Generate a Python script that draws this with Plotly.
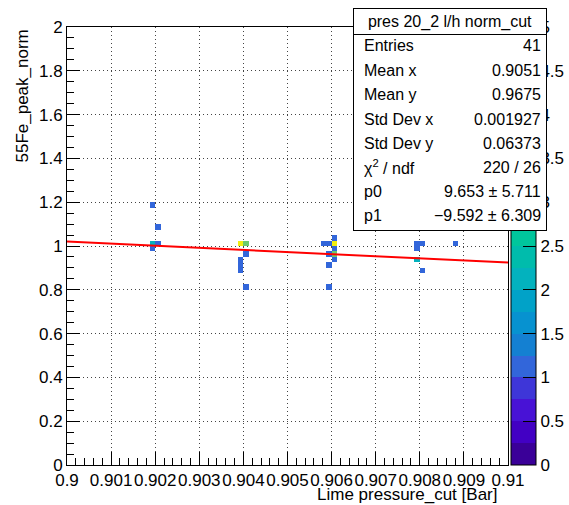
import math
import plotly.graph_objects as go

# ---- histogram binning (TH2-style: 80 x 80 bins) ----
X_MIN, X_MAX, NX = 0.9, 0.91, 80
Y_MIN, Y_MAX, NY = 0.0, 2.0, 80

# ---- filled cells: bin centre x, bin centre y, entries ----
cell_x = [0.9019375, 0.9020625, 0.9019375, 0.9020625, 0.9019375,
          0.9039375, 0.9040625, 0.9040625, 0.9039375, 0.9039375, 0.9039375, 0.9040625,
          0.9058125, 0.9059375, 0.9060625, 0.9060625, 0.9060625, 0.9060625, 0.9060625,
          0.9059375, 0.9059375, 0.9059375,
          0.9079375, 0.9080625, 0.9079375, 0.9079375, 0.9080625, 0.9088125]
cell_y = [1.1875, 1.0875, 1.0125, 1.0125, 0.9875,
          1.0125, 1.0125, 0.9625, 0.9375, 0.9125, 0.8875, 0.8125,
          1.0125, 1.0125, 1.0375, 1.0125, 0.9875, 0.9625, 0.9375,
          0.9625, 0.9125, 0.8125,
          1.0125, 1.0125, 0.9875, 0.9375, 0.8875, 1.0125]
cell_n = [1, 1, 2, 1, 1,
          5, 3, 1, 1, 1, 1, 1,
          1, 1, 1, 5, 1, 3, 1,
          1, 1, 1,
          1, 1, 1, 2, 1, 1]

# ---- linear fit result p0 + p1*x ----
p0, p1 = 9.653, -9.592

# ---- statistics box text ----
stats_title = "pres 20_2 l/h norm_cut"
stats_labels = ["Entries", "Mean x", "Mean y", "Std Dev x", "Std Dev y",
                "\u03c7<sup>2</sup> / ndf", "p0", "p1"]
stats_values = ["41", "0.9051", "0.9675", "0.001927", "0.06373",
                "220 / 26", "9.653 \u00b1 5.711", "\u22129.592 \u00b1 6.309"]

# ---- axis ticks ----
x_ticks = [0.9, 0.901, 0.902, 0.903, 0.904, 0.905, 0.906, 0.907, 0.908, 0.909, 0.91]
x_ticktext = ["0.9", "0.901", "0.902", "0.903", "0.904", "0.905", "0.906",
              "0.907", "0.908", "0.909", "0.91"]
y_ticks = [0, 0.2, 0.4, 0.6, 0.8, 1.0, 1.2, 1.4, 1.6, 1.8, 2.0]
y_ticktext = ["0", "0.2", "0.4", "0.6", "0.8", "1", "1.2", "1.4", "1.6", "1.8", "2"]
z_ticks = [0, 0.5, 1, 1.5, 2, 2.5, 3, 3.5, 4, 4.5, 5]
z_ticktext = ["0", "0.5", "1", "1.5", "2", "2.5", "3", "3.5", "4", "4.5", "5"]

# 20-level palette (0 .. 5)
band_colors = ["#3a0098", "#4200c4", "#4812d6", "#3e36d8", "#3266da",
               "#1480d2", "#0792d0", "#01a2c8", "#03b2be", "#00bcac",
               "#00c69c", "#20c890", "#6ccb6c", "#86cc5e", "#a0cc50",
               "#bccc40", "#d2cc32", "#e2d428", "#eede1c", "#f2ee10"]

ZMAX = 5.0

W, H = 569, 505
ML, MR, MT, MB = 67, 61, 27, 40
PW, PH = W - ML - MR, H - MT - MB


def px(xp):
    return (xp - ML) / PW


def py(yp):
    return (H - MB - yp) / PH


# build the 2D grid
dx = (X_MAX - X_MIN) / NX
dy = (Y_MAX - Y_MIN) / NY
xc = [X_MIN + (i + 0.5) * dx for i in range(NX)]
yc = [Y_MIN + (j + 0.5) * dy for j in range(NY)]
z = [[None] * NX for _ in range(NY)]
for cx, cy, n in zip(cell_x, cell_y, cell_n):
    i = int(math.floor((cx - X_MIN) / dx))
    j = int(math.floor((cy - Y_MIN) / dy))
    z[j][i] = (z[j][i] or 0) + n

nb = len(band_colors)
colorscale = []
for k, c in enumerate(band_colors):
    colorscale.append([k / nb, c])
    colorscale.append([(k + 1) / nb, c])

FONT = "Liberation Sans, Arial, Helvetica, sans-serif"

fig = go.Figure()

fig.add_trace(go.Heatmap(
    x=xc, y=yc, z=z, zmin=0, zmax=ZMAX, colorscale=colorscale,
    hoverongaps=False, showscale=True,
    colorbar=dict(
        x=1 + 3 / PW, xanchor="left", xpad=0, ypad=0,
        y=0, yanchor="bottom", len=1, lenmode="fraction",
        thickness=25, thicknessmode="pixels",
        outlinewidth=1, outlinecolor="black",
        tickmode="array", tickvals=z_ticks, ticktext=z_ticktext,
        ticks="inside", ticklen=13, tickcolor="black", tickwidth=1,
        tickfont=dict(family=FONT, size=17, color="black"),
    ),
))

fx = [X_MIN, X_MAX]
fy = [p0 + p1 * v for v in fx]
fig.add_trace(go.Scatter(x=fx, y=fy, mode="lines",
                         line=dict(color="#ff0000", width=2),
                         hoverinfo="skip", showlegend=False))

axis_common = dict(
    showline=True, linecolor="black", linewidth=1, mirror=True,
    ticks="inside", tickcolor="black", tickwidth=1, ticklen=13,
    showgrid=True, gridcolor="#444444", griddash="1px,3px", gridwidth=1,
    zeroline=False, tickfont=dict(family=FONT, size=17, color="black"),
    tickmode="array",
)

fig.update_xaxes(range=[X_MIN, X_MAX], tickvals=x_ticks, ticktext=x_ticktext,
                 tickangle=0,
                 minor=dict(dtick=0.0002, tick0=0.9, ticks="inside", ticklen=7,
                            tickcolor="black", showgrid=False),
                 **axis_common)
fig.update_yaxes(range=[Y_MIN, Y_MAX], tickvals=y_ticks, ticktext=y_ticktext,
                 minor=dict(dtick=0.05, tick0=0, ticks="inside", ticklen=7,
                            tickcolor="black", showgrid=False),
                 **axis_common)

ann = []
# axis titles
ann.append(dict(text="Lime pressure_cut [Bar]", xref="paper", yref="paper",
                x=px(499), y=py(494), xanchor="right", yanchor="middle",
                showarrow=False, font=dict(family=FONT, size=17, color="black")))
ann.append(dict(text="55Fe_peak_norm", xref="paper", yref="paper",
                x=px(22), y=py(28), xanchor="center", yanchor="top", textangle=-90,
                showarrow=False, font=dict(family=FONT, size=17, color="black")))

# statistics box
BX0, BX1, BY0, BYT, BY1 = 353, 546, 8, 33, 230
ann.append(dict(text=" ", xref="paper", yref="paper", x=px(BX0), y=py(BYT),
                xanchor="left", yanchor="top", width=BX1 - BX0 - 1, height=BY1 - BYT - 1,
                bgcolor="white", bordercolor="black", borderwidth=1, borderpad=0,
                showarrow=False))
ann.append(dict(text=stats_title, xref="paper", yref="paper", x=px(BX0), y=py(BY0),
                xanchor="left", yanchor="top", width=BX1 - BX0 - 1, height=BYT - BY0,
                bgcolor="white", bordercolor="black", borderwidth=1, borderpad=0,
                align="center", valign="middle", showarrow=False,
                font=dict(family=FONT, size=16, color="black")))
row_y = [45, 70, 94, 119, 143, 167, 192, 216]
for lab, val, ry in zip(stats_labels, stats_values, row_y):
    ann.append(dict(text=lab, xref="paper", yref="paper", x=px(362), y=py(ry),
                    xanchor="left", yanchor="middle", showarrow=False,
                    font=dict(family=FONT, size=16, color="black")))
    ann.append(dict(text=val, xref="paper", yref="paper", x=px(543), y=py(ry),
                    xanchor="right", yanchor="middle", showarrow=False,
                    font=dict(family=FONT, size=16, color="black")))

fig.update_layout(
    width=W, height=H,
    margin=dict(l=ML, r=MR, t=MT, b=MB, pad=0, autoexpand=False),
    paper_bgcolor="white", plot_bgcolor="white",
    showlegend=False, annotations=ann,
)

fig.write_html("out.html")
